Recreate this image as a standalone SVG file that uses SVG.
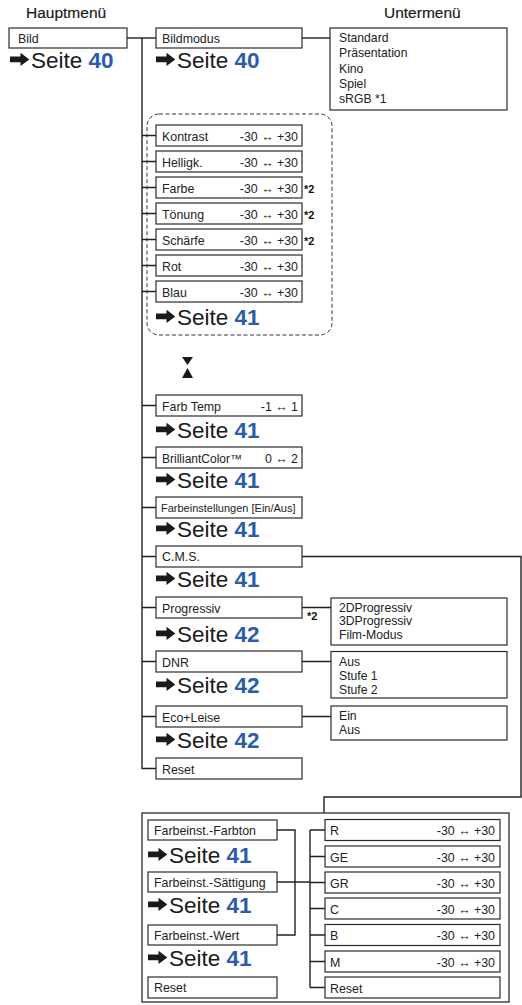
<svg xmlns="http://www.w3.org/2000/svg" xmlns:xlink="http://www.w3.org/1999/xlink" width="522" height="1005" viewBox="0 0 522 1005">
<style>
.bx{fill:#fff;stroke:#2b2b2b;stroke-width:1.2}
.sub{fill:#fff;stroke:#2b2b2b;stroke-width:1.2}
.t{font-family:"Liberation Sans",Arial,sans-serif;font-size:12.4px;fill:#222}
.st{font-family:"Liberation Sans",Arial,sans-serif;font-size:12.2px;fill:#222}
.r{text-anchor:end}
.fn{font-family:"Liberation Sans",Arial,sans-serif;font-size:11px;font-weight:bold;fill:#111}
.hd{font-family:"Liberation Sans",Arial,sans-serif;font-size:15.5px;fill:#1a1a1a;stroke:#1a1a1a;stroke-width:0.2}
.s{font-family:"Liberation Sans",Arial,sans-serif;font-size:22.5px;fill:#1a1a1a}
.n{font-weight:bold;fill:#2a5caa}
.ln{fill:none;stroke:#222;stroke-width:1.4}
.dash{fill:none;stroke:#333;stroke-width:1;stroke-dasharray:4 2.5}
</style>
<defs>
<path id="arr" d="M0,-11.4 h10.5 v-3.8 l8.8,6.6 l-8.8,6.6 v-3.8 h-10.5 z" fill="#1a1a1a"/>
</defs>

<text class="hd" x="26" y="18">Hauptmenü</text>
<text class="hd" x="384" y="18">Untermenü</text>

<g id="connectors">
<path class="ln" d="M127,38 H156"/>
<path class="ln" d="M142,38 V768.5 H156"/>
<path class="ln" d="M302,38 H330"/>
<path class="ln" d="M142,135.5 H156 M142,161.5 H156 M142,187.5 H156 M142,213.5 H156 M142,239.5 H156 M142,265.5 H156 M142,291.5 H156"/>
<path class="ln" d="M142,405.5 H156 M142,457.5 H156 M142,507.5 H156 M142,556.5 H156 M142,607.5 H156 M142,661.5 H156 M142,716.5 H156"/>
<path class="ln" d="M302,607.5 H331 M302,661.5 H331 M302,716.5 H331"/>
<path class="ln" d="M302,556.5 H521 V797 H324 V813"/>
<path class="ln" d="M277,830 H295 V935 H277 M277,882 H310 M310,830 V987.5"/>
<path class="ln" d="M310,830 H325 M310,856.5 H325 M310,882.5 H325 M310,908.5 H325 M310,935 H325 M310,961.5 H325 M310,987.5 H325"/>
</g>

<g id="bild">
<rect class="bx" x="9" y="28" width="118" height="20"/>
<text class="t" x="18" y="42.5">Bild</text>
<g transform="translate(10,68)"><use xlink:href="#arr"/><text class="s" x="21">Seite <tspan class="n">40</tspan></text></g>
</g>

<g id="bildmodus">
<rect class="bx" x="156" y="28" width="146" height="20"/>
<text class="t" x="162" y="42.5">Bildmodus</text>
<g transform="translate(156,68)"><use xlink:href="#arr"/><text class="s" x="21">Seite <tspan class="n">40</tspan></text></g>
</g>

<g id="bildmodus-sub">
<rect class="sub" x="330" y="28" width="177" height="82"/>
<text class="st" x="339" y="42">Standard</text>
<text class="st" x="339" y="57">Präsentation</text>
<text class="st" x="339" y="72.5">Kino</text>
<text class="st" x="339" y="87.5">Spiel</text>
<text class="st" x="339" y="102.5">sRGB *1</text>
</g>

<g id="bildgruppe">
<rect class="dash" x="147" y="114" width="185" height="221" rx="12"/>
</g>

<g id="kontrast">
<rect class="bx" x="156" y="125" width="146" height="21"/>
<text class="t" x="162" y="140.5">Kontrast</text>
<text class="t r" x="298" y="140.5">-30 ↔ +30</text>
</g>
<g id="helligk">
<rect class="bx" x="156" y="151" width="146" height="21"/>
<text class="t" x="162" y="166.5">Helligk.</text>
<text class="t r" x="298" y="166.5">-30 ↔ +30</text>
</g>
<g id="farbe">
<rect class="bx" x="156" y="177" width="146" height="21"/>
<text class="t" x="162" y="192.5">Farbe</text>
<text class="t r" x="298" y="192.5">-30 ↔ +30</text>
<text class="fn" x="304" y="192.5">*2</text>
</g>
<g id="toenung">
<rect class="bx" x="156" y="203" width="146" height="21"/>
<text class="t" x="162" y="218.5">Tönung</text>
<text class="t r" x="298" y="218.5">-30 ↔ +30</text>
<text class="fn" x="304" y="218.5">*2</text>
</g>
<g id="schaerfe">
<rect class="bx" x="156" y="229" width="146" height="21"/>
<text class="t" x="162" y="244.5">Schärfe</text>
<text class="t r" x="298" y="244.5">-30 ↔ +30</text>
<text class="fn" x="304" y="244.5">*2</text>
</g>
<g id="rot">
<rect class="bx" x="156" y="255" width="146" height="21"/>
<text class="t" x="162" y="270.5">Rot</text>
<text class="t r" x="298" y="270.5">-30 ↔ +30</text>
</g>
<g id="blau">
<rect class="bx" x="156" y="281" width="146" height="21"/>
<text class="t" x="162" y="296.5">Blau</text>
<text class="t r" x="298" y="296.5">-30 ↔ +30</text>
<g transform="translate(156,325)"><use xlink:href="#arr"/><text class="s" x="21">Seite <tspan class="n">41</tspan></text></g>
</g>

<g id="hourglass" fill="#1a1a1a">
<polygon points="182,357 193,357 187.5,365"/>
<polygon points="187.5,368 182,378 193,378"/>
</g>

<g id="farbtemp">
<rect class="bx" x="156" y="395" width="146" height="21"/>
<text class="t" x="162" y="410.5">Farb Temp</text>
<text class="t r" x="298" y="410.5">-1 ↔ 1</text>
<g transform="translate(156,438)"><use xlink:href="#arr"/><text class="s" x="21">Seite <tspan class="n">41</tspan></text></g>
</g>
<g id="brilliantcolor">
<rect class="bx" x="156" y="447" width="146" height="21"/>
<text class="t" x="162" y="462.5" style="font-size:12px">BrilliantColor™</text>
<text class="t r" x="298" y="462.5">0 ↔ 2</text>
<g transform="translate(156,488)"><use xlink:href="#arr"/><text class="s" x="21">Seite <tspan class="n">41</tspan></text></g>
</g>
<g id="farbeinstellungen">
<rect class="bx" x="156" y="497" width="146" height="21"/>
<text class="t" x="161" y="512" style="font-size:11px">Farbeinstellungen [Ein/Aus]</text>
<g transform="translate(156,537)"><use xlink:href="#arr"/><text class="s" x="21">Seite <tspan class="n">41</tspan></text></g>
</g>
<g id="cms">
<rect class="bx" x="156" y="546" width="146" height="21"/>
<text class="t" x="162" y="561">C.M.S.</text>
<g transform="translate(156,587)"><use xlink:href="#arr"/><text class="s" x="21">Seite <tspan class="n">41</tspan></text></g>
</g>
<g id="progressiv">
<rect class="bx" x="156" y="597" width="146" height="21"/>
<text class="t" x="162" y="612.5">Progressiv</text>
<text class="fn" x="307" y="620">*2</text>
<g transform="translate(156,642)"><use xlink:href="#arr"/><text class="s" x="21">Seite <tspan class="n">42</tspan></text></g>
</g>
<g id="progressiv-sub">
<rect class="sub" x="331" y="598" width="176" height="47"/>
<text class="st" x="339" y="611.5">2DProgressiv</text>
<text class="st" x="339" y="625">3DProgressiv</text>
<text class="st" x="339" y="639">Film-Modus</text>
</g>
<g id="dnr">
<rect class="bx" x="156" y="651" width="146" height="21"/>
<text class="t" x="162" y="666.5">DNR</text>
<g transform="translate(156,693)"><use xlink:href="#arr"/><text class="s" x="21">Seite <tspan class="n">42</tspan></text></g>
</g>
<g id="dnr-sub">
<rect class="sub" x="331" y="651.5" width="176" height="46.5"/>
<text class="st" x="339" y="665.5">Aus</text>
<text class="st" x="339" y="679.5">Stufe 1</text>
<text class="st" x="339" y="693.5">Stufe 2</text>
</g>
<g id="ecoleise">
<rect class="bx" x="156" y="706" width="146" height="21"/>
<text class="t" x="162" y="721.5">Eco+Leise</text>
<g transform="translate(156,748)"><use xlink:href="#arr"/><text class="s" x="21">Seite <tspan class="n">42</tspan></text></g>
</g>
<g id="ecoleise-sub">
<rect class="sub" x="331" y="706" width="176" height="34"/>
<text class="st" x="339" y="720">Ein</text>
<text class="st" x="339" y="734">Aus</text>
</g>
<g id="reset">
<rect class="bx" x="156" y="758" width="146" height="21"/>
<text class="t" x="162" y="773.5">Reset</text>
</g>

<g id="cms-panel">
<rect fill="none" stroke="#2b2b2b" stroke-width="1.3" x="142" y="813" width="367" height="189"/>
</g>

<g id="farbton">
<rect class="bx" x="148" y="820" width="129" height="20"/>
<text class="t" x="154" y="834.5">Farbeinst.-Farbton</text>
<g transform="translate(148,863)"><use xlink:href="#arr"/><text class="s" x="21">Seite <tspan class="n">41</tspan></text></g>
</g>
<g id="saettigung">
<rect class="bx" x="148" y="872" width="129" height="20"/>
<text class="t" x="154" y="886.5">Farbeinst.-Sättigung</text>
<g transform="translate(148,913)"><use xlink:href="#arr"/><text class="s" x="21">Seite <tspan class="n">41</tspan></text></g>
</g>
<g id="wert">
<rect class="bx" x="148" y="925" width="129" height="20"/>
<text class="t" x="154" y="939.5">Farbeinst.-Wert</text>
<g transform="translate(148,966)"><use xlink:href="#arr"/><text class="s" x="21">Seite <tspan class="n">41</tspan></text></g>
</g>
<g id="cms-reset-left">
<rect class="bx" x="148" y="977" width="129" height="21"/>
<text class="t" x="154" y="992">Reset</text>
</g>

<g id="c-r">
<rect class="bx" x="325" y="819.5" width="175" height="21"/>
<text class="t" x="330" y="835">R</text>
<text class="t r" x="495" y="835">-30 ↔ +30</text>
</g>
<g id="c-ge">
<rect class="bx" x="325" y="846" width="175" height="21"/>
<text class="t" x="330" y="861.5">GE</text>
<text class="t r" x="495" y="861.5">-30 ↔ +30</text>
</g>
<g id="c-gr">
<rect class="bx" x="325" y="872" width="175" height="21"/>
<text class="t" x="330" y="887.5">GR</text>
<text class="t r" x="495" y="887.5">-30 ↔ +30</text>
</g>
<g id="c-c">
<rect class="bx" x="325" y="898" width="175" height="21"/>
<text class="t" x="330" y="913.5">C</text>
<text class="t r" x="495" y="913.5">-30 ↔ +30</text>
</g>
<g id="c-b">
<rect class="bx" x="325" y="924.5" width="175" height="21"/>
<text class="t" x="330" y="940">B</text>
<text class="t r" x="495" y="940">-30 ↔ +30</text>
</g>
<g id="c-m">
<rect class="bx" x="325" y="951" width="175" height="21"/>
<text class="t" x="330" y="966.5">M</text>
<text class="t r" x="495" y="966.5">-30 ↔ +30</text>
</g>
<g id="c-reset">
<rect class="bx" x="325" y="977" width="175" height="21"/>
<text class="t" x="330" y="992.5">Reset</text>
</g>
</svg>
